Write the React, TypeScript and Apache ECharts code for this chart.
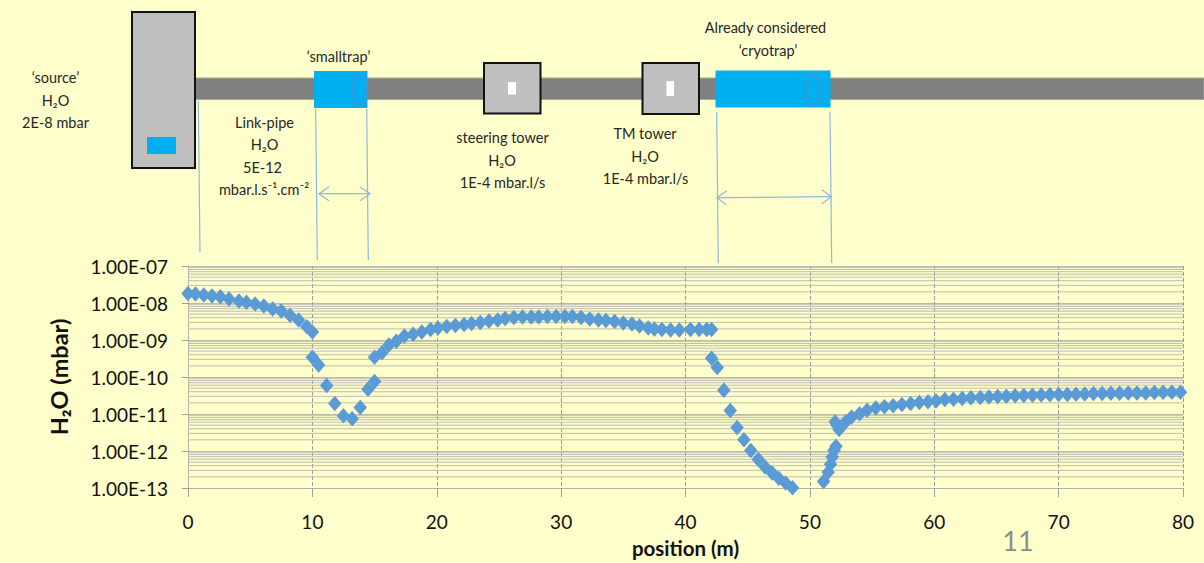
import React, { useEffect, useRef } from "react";
import * as echarts from "echarts";

const positionsM = [
  0, 0.6, 1.27, 1.93, 2.6, 3.3, 4.1, 4.7, 5.4, 6.1, 6.8, 7.5, 8.2, 8.9, 9.55, 10,
  10, 10.5, 11.15, 11.8, 12.5, 13.2, 13.85, 14.47, 15, 15, 15.6, 16.15, 16.75,
  17.4, 18.1, 18.8, 19.5, 20.1, 20.8, 21.5, 22.2, 22.8, 23.5, 24.2, 24.9, 25.5, 26.2, 26.9, 27.6, 28.2, 28.9, 29.6, 30.3, 30.9,
  31.6, 32.3, 33, 33.6, 34.3, 35, 35.7, 36.3, 37, 37.5, 38.1, 38.8, 39.5, 40.4, 41.1, 41.7, 42.1,
  42.1, 42.55, 43.08, 43.6, 44.15, 44.7, 45.25, 45.85, 46.4, 46.97, 47.5, 48.05, 48.6,
  51.1, 51.47, 51.66, 51.8, 51.95, 52.1, 52.03, 52.2, 52.35, 52.87, 53.35, 54, 54.6, 55.3, 56, 56.7, 57.4, 58.1, 58.8,
  59.5, 60.15, 60.85, 61.55, 62.25, 62.95, 63.7, 64.4, 65.1, 65.8, 66.5, 67.2, 67.9, 68.6, 69.3, 70, 70.7, 71.4, 72.1, 72.8, 73.5, 74.2, 74.9, 75.6, 76.3, 77, 77.7, 78.4, 79.1, 79.8,
];

const h2oMbar = [
  1.82e-8, 1.75e-8, 1.64e-8, 1.54e-8, 1.48e-8, 1.28e-8, 1.13e-8, 1.04e-8, 9.4e-9, 8.3e-9, 6.9e-9, 6.05e-9, 4.7e-9, 3.46e-9, 2.28e-9, 1.64e-9,
  3.4e-10, 2.1e-10, 5.9e-11, 1.92e-11, 8.9e-12, 7.4e-12, 1.5e-11, 4.7e-11, 7.6e-11, 3.44e-10, 4.5e-10, 7.3e-10, 9.3e-10,
  1.28e-9, 1.44e-9, 1.64e-9, 1.91e-9, 2.1e-9, 2.31e-9, 2.45e-9, 2.61e-9, 2.78e-9, 2.96e-9, 3.25e-9, 3.46e-9, 3.8e-9, 4.04e-9, 4.17e-9, 4.17e-9, 4.17e-9, 4.3e-9, 4.3e-9, 4.3e-9, 4.3e-9,
  4.04e-9, 3.68e-9, 3.46e-9, 3.35e-9, 3.15e-9, 2.86e-9, 2.69e-9, 2.38e-9, 2.1e-9, 1.97e-9, 1.91e-9, 1.85e-9, 1.85e-9, 1.91e-9, 1.91e-9, 1.91e-9, 1.91e-9,
  3.2e-10, 1.81e-10, 4.4e-11, 1.24e-11, 4.3e-12, 2e-12, 1.03e-12, 5.9e-13, 3.7e-13, 2.55e-13, 1.83e-13, 1.37e-13, 1.02e-13,
  1.49e-13, 2.66e-13, 4.4e-13, 6.9e-13, 1.05e-12, 1.35e-12, 6.1e-12, 4.9e-12, 3.8e-12, 6.1e-12, 8.3e-12, 1.02e-11, 1.27e-11, 1.46e-11, 1.56e-11, 1.66e-11, 1.81e-11, 1.92e-11, 2.05e-11,
  2.13e-11, 2.26e-11, 2.47e-11, 2.51e-11, 2.63e-11, 2.73e-11, 2.79e-11, 2.9e-11, 2.97e-11, 3.03e-11, 3.09e-11, 3.16e-11, 3.23e-11, 3.27e-11, 3.3e-11, 3.37e-11, 3.37e-11, 3.44e-11, 3.46e-11, 3.58e-11, 3.6e-11, 3.62e-11, 3.65e-11, 3.68e-11, 3.7e-11, 3.72e-11, 3.8e-11, 3.85e-11, 3.88e-11, 3.9e-11,
];

const decades = [1e-13, 1e-12, 1e-11, 1e-10, 1e-9, 1e-8];
const minorMultipliers = [2, 3, 4, 5, 6, 7, 8, 9];
const yTickLabels: Record<string, string> = {
  "-7": "1.00E-07", "-8": "1.00E-08", "-9": "1.00E-09", "-10": "1.00E-10",
  "-11": "1.00E-11", "-12": "1.00E-12", "-13": "1.00E-13",
};

const FONT = "Lato, Carlito, 'Noto Sans', sans-serif";
const BG = "#ffffcc";
const BLUE = "#00b0f0";
const GREY = "#bfbfbf";
const THIN = "#8db9de";
const INK = "#262626";

const label = (text: string, x: number, y: number, fontSize = 14.5, fill = INK) => ({
  type: "text",
  x,
  y,
  silent: true,
  style: { text, fill, font: `${fontSize}px ${FONT}`, textAlign: "center", textVerticalAlign: "middle" },
});
const box = (x: number, y: number, w: number, h: number, fill: string, stroke?: string, lineWidth = 0) => ({
  type: "rect",
  silent: true,
  shape: { x, y, width: w, height: h },
  style: { fill, stroke, lineWidth },
});
const thin = (x1: number, y1: number, x2: number, y2: number, stroke = THIN, lineWidth = 1.2) => ({
  type: "line",
  silent: true,
  shape: { x1, y1, x2, y2 },
  style: { stroke, lineWidth },
});
const arrowHead = (x: number, y: number, dir: number) => ({
  type: "polyline",
  silent: true,
  shape: { points: [[x + dir * 10, y - 7], [x, y], [x + dir * 10, y + 7]] },
  style: { stroke: THIN, lineWidth: 1.2, fill: "none" },
});
const ring = (cx: number, cy: number, rx: number, ry: number) => ({
  type: "ellipse",
  silent: true,
  shape: { cx, cy, rx, ry },
  style: { fill: "none", stroke: "#4f90d0", lineWidth: 1.5 },
});

const schematic = [
  box(195, 78, 1009, 21.5, "#808080", "#a8a89a", 1),
  box(132, 12, 63, 156, GREY, "#111", 2),
  box(147, 137, 29, 17, BLUE),
  box(314, 71, 53.5, 37, BLUE),
  ring(359.5, 90, 7, 16.5),
  box(484, 63, 56.5, 50.5, GREY, "#111", 2),
  box(508, 82, 8, 12.5, "#ffffff"),
  box(642.5, 63, 56.5, 51, GREY, "#111", 2),
  box(666.5, 81, 7.5, 15, "#ffffff"),
  box(715.5, 70.5, 115, 37, BLUE),
  ring(813, 90, 7, 16.5),
  thin(198.3, 101, 200, 252),
  thin(315.7, 109, 317.3, 260),
  thin(366.7, 109, 368.3, 260),
  thin(716.7, 112, 718.3, 263),
  thin(830, 112, 831.7, 263),
  thin(319, 193.7, 370, 193.7),
  arrowHead(319, 193.7, 1),
  arrowHead(370, 193.7, -1),
  thin(716.7, 197.7, 831.7, 196.7),
  arrowHead(716.7, 197.7, 1),
  arrowHead(831.7, 196.7, -1),
  label("‘source’", 55.5, 77),
  label("H₂O", 55.5, 100),
  label("2E-8 mbar", 55.5, 122),
  label("‘smalltrap’", 338.5, 56),
  label("Link-pipe", 264.5, 122),
  label("H₂O", 264.5, 144),
  label("5E-12", 262.5, 167),
  label("mbar.l.s⁻¹.cm⁻²", 264, 189),
  label("steering tower", 502.5, 137),
  label("H₂O", 502, 160),
  label("1E-4 mbar.l/s", 502.5, 182),
  label("TM tower", 645, 133),
  label("H₂O", 645, 156),
  label("1E-4 mbar.l/s", 645.5, 178),
  label("Already considered", 765.5, 27),
  label("‘cryotrap’", 768, 50),
  label("11", 1018, 540, 27, "#8c8c8c"),
];

export default function App() {
  const ref = useRef<HTMLDivElement>(null);
  useEffect(() => {
    document.body.style.margin = "0";
    document.body.style.overflow = "hidden";
    const chart = echarts.init(ref.current!, undefined, { renderer: "svg" });
    const points = positionsM.map((x, i) => [x, h2oMbar[i]]);
    const minorGrid = decades.flatMap((d) =>
      minorMultipliers.flatMap((m) => [[0, m * d], [80, m * d], [null, null]])
    );
    chart.setOption({
      animation: false,
      backgroundColor: BG,
      textStyle: { fontFamily: FONT },
      grid: { left: 188, top: 266, width: 995, height: 222, containLabel: false },
      xAxis: {
        type: "value",
        min: 0,
        max: 80,
        interval: 10,
        name: "position (m)",
        nameLocation: "middle",
        nameGap: 49,
        nameTextStyle: { fontFamily: FONT, fontSize: 20.5, fontWeight: "bold", color: "#111" },
        axisLine: { lineStyle: { color: "#b4b4a6", width: 1 } },
        axisTick: { length: 9, lineStyle: { color: "#a0a098" } },
        axisLabel: { fontFamily: FONT, fontSize: 19, color: "#111", margin: 24 },
        splitLine: { show: true, lineStyle: { color: "#9c9c94", type: "dashed", width: 1 } },
      },
      yAxis: {
        type: "log",
        logBase: 10,
        min: 1e-13,
        max: 1e-7,
        name: "H₂O (mbar)",
        nameLocation: "middle",
        nameRotate: 90,
        nameGap: 117,
        nameTextStyle: { fontFamily: FONT, fontSize: 23.5, fontWeight: "bold", color: "#111" },
        axisLine: { show: true, lineStyle: { color: "#b4b4a6", width: 1 } },
        axisTick: { show: true, length: 6, lineStyle: { color: "#a0a098" } },
        axisLabel: {
          fontFamily: FONT,
          fontSize: 19,
          color: "#111",
          margin: 20,
          formatter: (v: number) => yTickLabels[String(Math.round(Math.log10(v)))] ?? "",
        },
        splitLine: { show: true, lineStyle: { color: "#bcbcae", width: 1 } },
      },
      series: [
        {
          type: "line",
          silent: true,
          z: 1,
          showSymbol: false,
          connectNulls: false,
          lineStyle: { color: "#bdbdaf", width: 1 },
          data: minorGrid,
        },
        {
          type: "scatter",
          z: 3,
          symbol: "diamond",
          symbolSize: [13.5, 15.5],
          itemStyle: { color: "#5b9bd5", opacity: 1 },
          data: points,
        },
      ],
      graphic: { elements: schematic },
    });
    return () => chart.dispose();
  }, []);
  return <div ref={ref} style={{ width: 1204, height: 563 }} />;
}
